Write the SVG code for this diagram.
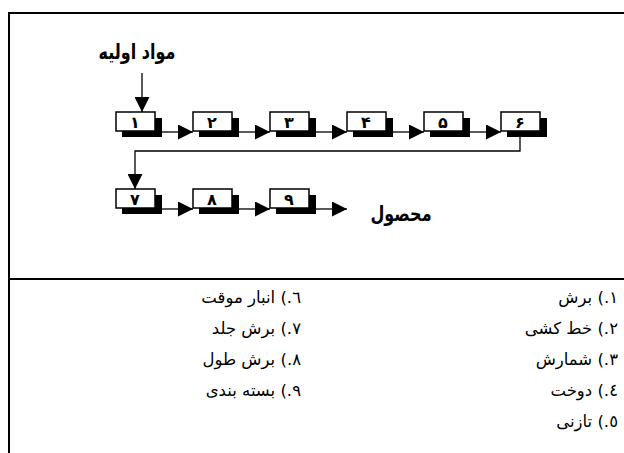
<svg xmlns="http://www.w3.org/2000/svg" width="624" height="453" viewBox="0 0 624 453">
<defs>
<style>
.frame{stroke:#000;stroke-width:2;fill:none}
.box{fill:#fff;stroke:#000;stroke-width:1.5}
.shadow{fill:#000}
.num{font-family:"DejaVu Sans",sans-serif;font-weight:bold;font-size:16px;text-anchor:middle}
.title{font-family:"DejaVu Sans",sans-serif;font-weight:bold;font-size:16px;text-anchor:middle}
.leg{font-family:"DejaVu Sans",sans-serif;font-size:16.5px;text-anchor:end}
.line{stroke:#000;stroke-width:1.3;fill:none}
</style>
<marker id="ah" markerWidth="15" markerHeight="15" viewBox="0 0 15 15" refX="15" refY="7.5" orient="auto" markerUnits="userSpaceOnUse">
<path d="M0,0 L15,7.5 L0,15 Z" fill="#000"/>
</marker>
</defs>
<rect width="624" height="453" fill="#fff"/>
<g id="frame">
<path class="frame" d="M9,453 V13 H624"/>
<path class="frame" d="M9,279 H624"/>
</g>
<g id="label-input"><text class="title" transform="translate(137,59) scale(1,1.3)">مواد اولیه</text></g>
<g id="label-output"><text class="title" transform="translate(401,221) scale(1,1.3)">محصول</text></g>
<g id="n1"><rect class="shadow" x="122" y="118" width="40" height="19"/><rect class="box" x="116" y="112" width="39" height="19"/><text class="num" x="135" y="128">۱</text></g>
<g id="n2"><rect class="shadow" x="199" y="118" width="40" height="19"/><rect class="box" x="193" y="112" width="39" height="19"/><text class="num" x="212" y="128">۲</text></g>
<g id="n3"><rect class="shadow" x="276" y="118" width="40" height="19"/><rect class="box" x="270" y="112" width="39" height="19"/><text class="num" x="289" y="128">۳</text></g>
<g id="n4"><rect class="shadow" x="353" y="118" width="40" height="19"/><rect class="box" x="347" y="112" width="39" height="19"/><text class="num" x="366" y="128">۴</text></g>
<g id="n5"><rect class="shadow" x="430" y="118" width="40" height="19"/><rect class="box" x="424" y="112" width="39" height="19"/><text class="num" x="443" y="128">۵</text></g>
<g id="n6"><rect class="shadow" x="507" y="118" width="40" height="19"/><rect class="box" x="501" y="112" width="39" height="19"/><text class="num" x="520" y="128">۶</text></g>
<g id="n7"><rect class="shadow" x="122" y="195" width="40" height="19"/><rect class="box" x="116" y="189" width="39" height="19"/><text class="num" x="135" y="205">۷</text></g>
<g id="n8"><rect class="shadow" x="199" y="195" width="40" height="19"/><rect class="box" x="193" y="189" width="39" height="19"/><text class="num" x="212" y="205">۸</text></g>
<g id="n9"><rect class="shadow" x="276" y="195" width="40" height="19"/><rect class="box" x="270" y="189" width="39" height="19"/><text class="num" x="289" y="205">۹</text></g>
<g id="connectors">
<path class="line" d="M142,73 V112" marker-end="url(#ah)"/>
<path class="line" d="M162,132 H193" marker-end="url(#ah)"/>
<path class="line" d="M239,132 H270" marker-end="url(#ah)"/>
<path class="line" d="M316,132 H347" marker-end="url(#ah)"/>
<path class="line" d="M393,132 H424" marker-end="url(#ah)"/>
<path class="line" d="M470,132 H501" marker-end="url(#ah)"/>
<path class="line" d="M520,137 V151 H135 V189" marker-end="url(#ah)"/>
<path class="line" d="M162,209 H193" marker-end="url(#ah)"/>
<path class="line" d="M239,209 H270" marker-end="url(#ah)"/>
<path class="line" d="M316,209 H347" marker-end="url(#ah)"/>
</g>
<g id="legend">
<text class="leg" x="618" y="303">١.) برش</text>
<text class="leg" x="618" y="334">٢.) خط کشی</text>
<text class="leg" x="618" y="365">٣.) شمارش</text>
<text class="leg" x="618" y="396">٤.) دوخت</text>
<text class="leg" x="618" y="427">٥.) تازنی</text>
<text class="leg" x="301" y="303">٦.) انبار موقت</text>
<text class="leg" x="301" y="334">٧.) برش جلد</text>
<text class="leg" x="301" y="365">٨.) برش طول</text>
<text class="leg" x="301" y="396">٩.) بسته بندی</text>
</g>
</svg>
